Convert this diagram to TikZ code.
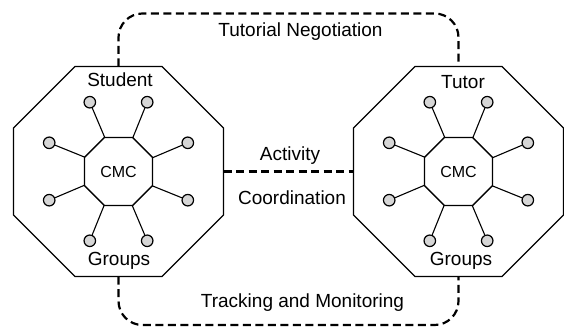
\documentclass[tikz,border=0pt]{standalone}
\usepackage{fontspec}
\setmainfont{Liberation Sans}
\usepackage{tikz}
\usetikzlibrary{shapes.geometric}
\usetikzlibrary{calc}

\begin{document}
\begin{tikzpicture}[x=1pt,y=1pt,
  group/.style={regular polygon,regular polygon sides=8,draw,line width=1.2pt,minimum size=227.3pt,inner sep=0pt,outer sep=0pt},
  hub/.style={regular polygon,regular polygon sides=8,draw,line width=1.4pt,minimum size=73.6pt,inner sep=0pt,outer sep=0pt,font=\fontsize{16}{18}\selectfont},
  member/.style={circle,draw,line width=1.2pt,fill=white!84!black,minimum size=11.5pt,inner sep=0pt},
  spoke/.style={line width=1.1pt},
  link/.style={line width=2.2pt,dash pattern=on 8pt off 4.5pt,rounded corners=24pt},
  lbl/.style={font=\fontsize{19}{22}\selectfont,anchor=base,inner sep=0pt}]
\useasboundingbox (0,0) rectangle (564,329);

\node[group] (stu) at (118.5,157.5) {};
\node[group] (tut) at (458.5,157.5) {};

\foreach \side/\x in {L/118.5,R/458.5}
{
        \node[hub] (cmc\side) at (\x,157.5) {CMC};
        \foreach \a [count=\i] in {22.5,67.5,...,337.5}
        {
                \node[member] (m\side\i) at ($(cmc\side)+(\a:75)$) {};
                \draw[spoke] (cmc\side.\a) -- (m\side\i);
        }
}

% group labels
\node[lbl] (stuname) at (120,242.5) {Student};
\node[lbl] (tutname) at (463,240) {Tutor};
\node[lbl] (stugrp) at (119,63.3) {Groups};
\node[lbl] (tutgrp) at (461,63.3) {Groups};

% links between the two groups
\draw[link] (stu.north) -- ++(0,53) -| (tut.north);
\draw[link] (stu.east) -- (tut.west);
\draw[link] (stu.south) -- ++(0,-48.5) -| (tut.south);

\node[lbl] (neg) at (300.5,292.5) {Tutorial Negotiation};
\node[lbl] (act) at (290,168.5) {Activity};
\node[lbl] (coo) at (292,124) {Coordination};
\node[lbl] (trk) at (302.5,22) {Tracking and Monitoring};
\end{tikzpicture}
\end{document}
